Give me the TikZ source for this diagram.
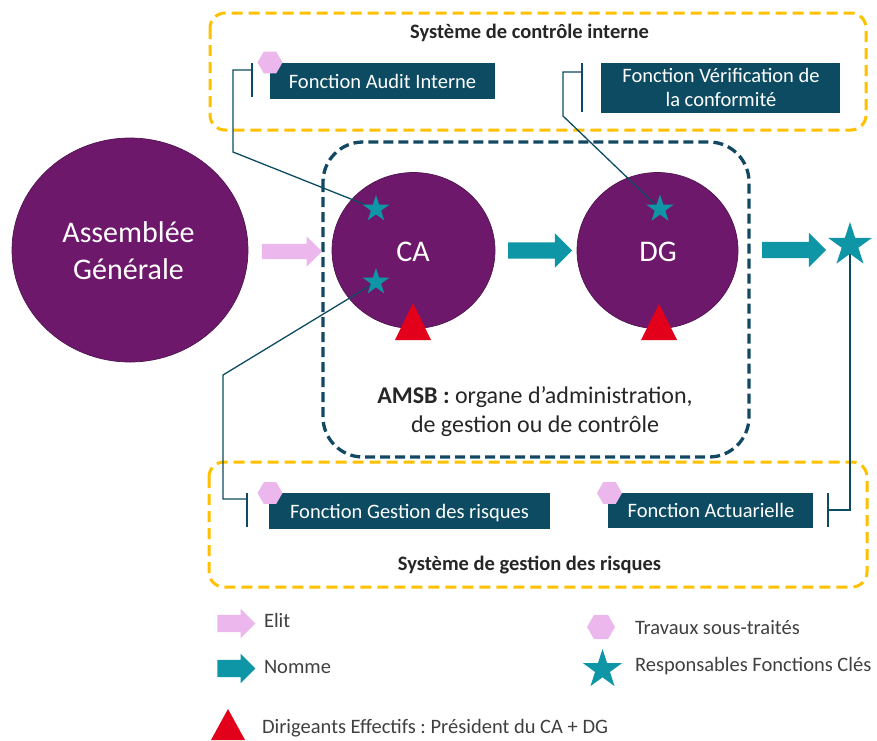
\documentclass[tikz,border=0pt]{standalone}
\usepackage{fontspec}
\setmainfont{Carlito}
\frenchspacing
\usetikzlibrary{shapes.geometric,shapes.arrows}

\definecolor{orgpurple}{RGB}{110,24,108}
\definecolor{orgpurpleline}{RGB}{80,20,80}
\definecolor{keyteal}{RGB}{14,150,166}
\definecolor{boxblue}{RGB}{13,75,99}
\definecolor{frameblue}{RGB}{18,72,98}
\definecolor{gold}{RGB}{255,192,0}
\definecolor{softpink}{RGB}{236,183,236}
\definecolor{alertred}{RGB}{226,0,26}
\definecolor{legendgray}{RGB}{64,64,64}
\definecolor{titlegray}{RGB}{38,38,38}

\begin{document}
\begin{tikzpicture}[x=1pt,y=-1pt,
  every node/.style={inner sep=0pt,outer sep=0pt},
  sysframe/.style={draw=gold,line width=3pt,rounded corners=15pt,dash pattern=on 11pt off 6pt},
  amsbframe/.style={draw=frameblue,line width=3.3pt,rounded corners=40pt,dash pattern=on 10pt off 5pt},
  body/.style={ellipse,fill=orgpurple,draw=orgpurpleline,line width=0.7pt},
  bigtext/.style={text=white,font=\fontsize{30}{36}\selectfont,anchor=base},
  fbox/.style={rectangle,fill=boxblue},
  ftext/.style={text=white,font=\fontsize{20.5}{25}\selectfont,anchor=base},
  systitle/.style={text=titlegray,font=\bfseries\fontsize{20.5}{25}\selectfont,anchor=base},
  amsbtext/.style={text=titlegray,font=\fontsize{24}{29}\selectfont,anchor=base},
  legtext/.style={text=legendgray,font=\fontsize{20.5}{25}\selectfont,anchor=base west},
  outsourced/.style={regular polygon,regular polygon sides=6,fill=softpink,minimum size=#1},
  keystar/.style={star,star points=5,star point ratio=2.618,fill=keyteal,minimum size=#1},
  % shaft thickness = 2 x inner ysep, head width = shaft + 2 x head extend
  blockarrow/.style={single arrow,single arrow tip angle=90,single arrow head indent=0pt,
    inner xsep=0pt,inner ysep=#1,text height=0pt,text depth=0pt},
  link/.style={draw=boxblue,line width=1.3pt},
  tee/.style={draw=boxblue,line width=1.5pt}]

\useasboundingbox (0,0) rectangle (877,740);

% ---------- system frames ----------
\draw[sysframe] (210,13) rectangle (866,130);
\node[systitle] (ictitle) at (529.5,38) {Système de contrôle interne};
\draw[sysframe] (209,462) rectangle (867,587);
\node[systitle] (rmtitle) at (529.5,570) {Système de gestion des risques};

\draw[amsbframe] (323,142) rectangle (749,457);
\node[amsbtext] (amsbA) at (535,403) {\textbf{AMSB :} organe d’administration,};
\node[amsbtext] (amsbB) at (535,432) {de gestion ou de contrôle};

% ---------- governing bodies ----------
\node[body,minimum width=236pt,minimum height=224pt] (ag) at (130,250) {};
\node[bigtext] (agA) at (128.5,242) {Assemblée};
\node[bigtext] (agB) at (128.5,279) {Générale};

\node[body,minimum width=163pt,minimum height=156pt] (ca) at (413.5,250.5) {};
\node[bigtext] (caT) at (413,261) {CA};
\node[body,minimum width=161pt,minimum height=156pt] (dg) at (657.5,250.5) {};
\node[bigtext] (dgT) at (658,261) {DG};

\fill[alertred] (413,303) -- (431,340) -- (395,340) -- cycle;
\fill[alertred] (659,304) -- (677,340) -- (641,340) -- cycle;

% ---------- elects / appoints ----------
\node[blockarrow=7.5pt,fill=softpink,minimum height=60pt,single arrow head extend=7.5pt] (elects) at (288,251.5) {};
\node[blockarrow=8pt,fill=keyteal,minimum height=64pt,single arrow head extend=9pt] (appointsA) at (536,250.5) {};
\node[blockarrow=8pt,fill=keyteal,minimum height=64pt,single arrow head extend=9pt] (appointsB) at (790,250) {};

% ---------- key functions ----------
\node[fbox,minimum width=225pt,minimum height=36pt] (audit) at (382.5,81) {};
\node[ftext] (auditT) at (382.5,88) {Fonction Audit Interne};
\node[fbox,minimum width=239pt,minimum height=50pt] (verif) at (720.5,88) {};
\node[ftext] (verifA) at (721,82) {Fonction Vérification de};
\node[ftext] (verifB) at (721,106) {la conformité};
\node[fbox,minimum width=281pt,minimum height=36pt] (risk) at (409.5,511) {};
\node[ftext] (riskT) at (409.5,518) {Fonction Gestion des risques};
\node[fbox,minimum width=205pt,minimum height=35pt] (actu) at (710.5,510.5) {};
\node[ftext] (actuT) at (711,517) {Fonction Actuarielle};

\node[outsourced=25pt] (hexAudit) at (270,62.5) {};
\node[outsourced=25pt] (hexRisk) at (270,493) {};
\node[outsourced=25pt] (hexActu) at (609.5,493) {};

% ---------- links from key function holders ----------
\coordinate (kfA) at (376,209);
\coordinate (kfB) at (376,282);
\coordinate (kfC) at (660,209);
\coordinate (kfD) at (850,245);

\coordinate (auditTee) at (252,70);
\coordinate (verifTee) at (582,72);
\coordinate (riskTee) at (247,499);
\coordinate (actuTee) at (828,510);

\draw[link] (kfA) -- (233,152) -- (233,70) -- (auditTee);
\draw[tee] (252,63) -- (252,97);
\draw[link] (kfC) -- (563,116) -- (563,72) -- (verifTee);
\draw[tee] (582,63) -- (582,112);
\draw[link] (kfB) -- (223,375) -- (223,499) -- (riskTee);
\draw[tee] (247,493) -- (247,527);
\draw[link] (kfD) |- (actuTee);
\draw[tee] (828,493) -- (828,527);

\node[keystar=28pt] (starA) at (kfA) {};
\node[keystar=28pt] (starB) at (kfB) {};
\node[keystar=29pt] (starC) at (kfC) {};
\node[keystar=46pt] (starD) at (kfD) {};

% ---------- legend ----------
\node[blockarrow=8.5pt,fill=softpink,minimum height=38pt,single arrow head extend=6pt] (legElect) at (232,623.5) {};
\node[legtext] (legElectT) at (264,627) {Elit};
\node[blockarrow=8.5pt,fill=keyteal,minimum height=38pt,single arrow head extend=6pt] (legAppoint) at (232,668.5) {};
\node[legtext] (legAppointT) at (264,673) {Nomme};
\fill[alertred] (228,709) -- (245,740) -- (211,740) -- cycle;
\node[legtext] (legDirT) at (262,733) {Dirigeants Effectifs : Président du CA + DG};

\node[outsourced=28pt] (legHex) at (601,627) {};
\node[legtext] (legHexT) at (635,634) {Travaux sous-traités};
\node[keystar=41pt] (legStar) at (602.5,669.5) {};
\node[legtext] (legStarT) at (635,671) {Responsables Fonctions Clés};

\end{tikzpicture}
\end{document}
